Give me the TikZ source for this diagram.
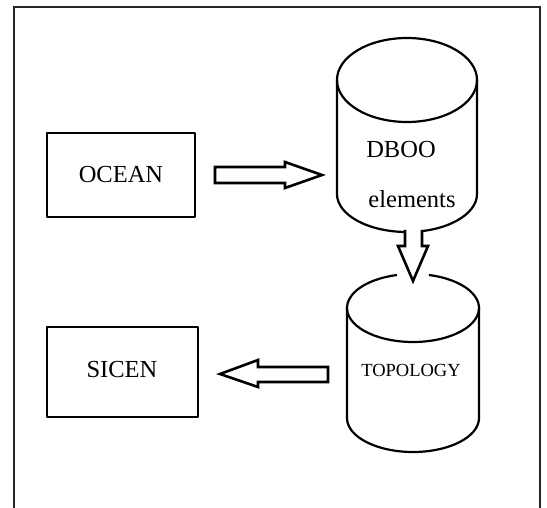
\documentclass[tikz,border=0pt]{standalone}
\usepackage{fontspec}
\setmainfont{Liberation Serif}
\begin{document}
\begin{tikzpicture}[x=1pt,y=-1pt,
  boxline/.style={draw=black, line width=2.6pt, line join=round},
  cyl/.style={draw=black, line width=2.2pt},
  blockarr/.style={draw=black, line width=2.6pt, line join=miter, fill=white},
  lbl/.style={font=\fontsize{24.5}{25}\selectfont, text=black, inner sep=0pt},
  smlbl/.style={font=\fontsize{18.5}{19}\selectfont, text=black, inner sep=0pt}]
\useasboundingbox (0,0) rectangle (547,508);
% outer frame
\draw[draw=black!85, line width=2pt] (14,520) -- (14,7) -- (540,7) -- (540,520);
% boxes
\node[boxline, minimum width=148pt, minimum height=84pt, inner sep=0pt] (ocean) at (121,175) {};
\node[lbl] (oceant) at (121,175) {OCEAN};
\node[boxline, minimum width=151pt, minimum height=90pt, inner sep=0pt] (sicen) at (122.5,372) {};
\node[lbl] (sicent) at (122,370) {SICEN};
% DBOO cylinder
\coordinate (dtop) at (407,80);
\draw[cyl] (dtop) ellipse[x radius=70, y radius=42];
\draw[cyl] (337,80) -- (337,194) arc[start angle=180, end angle=0, x radius=70, y radius=38] -- (477,80);
\node[lbl] (dboo) at (401,150) {DBOO};
\node[lbl] (elem) at (412,199) {elements};
% TOPOLOGY cylinder
\coordinate (ttop) at (413,308);
\draw[cyl] ([shift={(284:66 and 34)}]ttop) arc[start angle=284, end angle=616, x radius=66, y radius=34];
\draw[cyl] (347,308) -- (347,418) arc[start angle=180, end angle=0, x radius=66, y radius=34] -- (479,308);
\node[smlbl] (topo) at (411,370) {TOPOLOGY};
% arrows
\draw[blockarr] (215,167) -- (285,167) -- (285,162) -- (322,175) -- (285,188) -- (285,183) -- (215,183) -- cycle;
\draw[blockarr] (328,367) -- (258,367) -- (258,360) -- (220,374) -- (258,387) -- (258,382) -- (328,382) -- cycle;
\draw[blockarr] (405,230) -- (405,246) -- (398,246) -- (413,281) -- (428,246) -- (422,246) -- (422,230);
\end{tikzpicture}
\end{document}
